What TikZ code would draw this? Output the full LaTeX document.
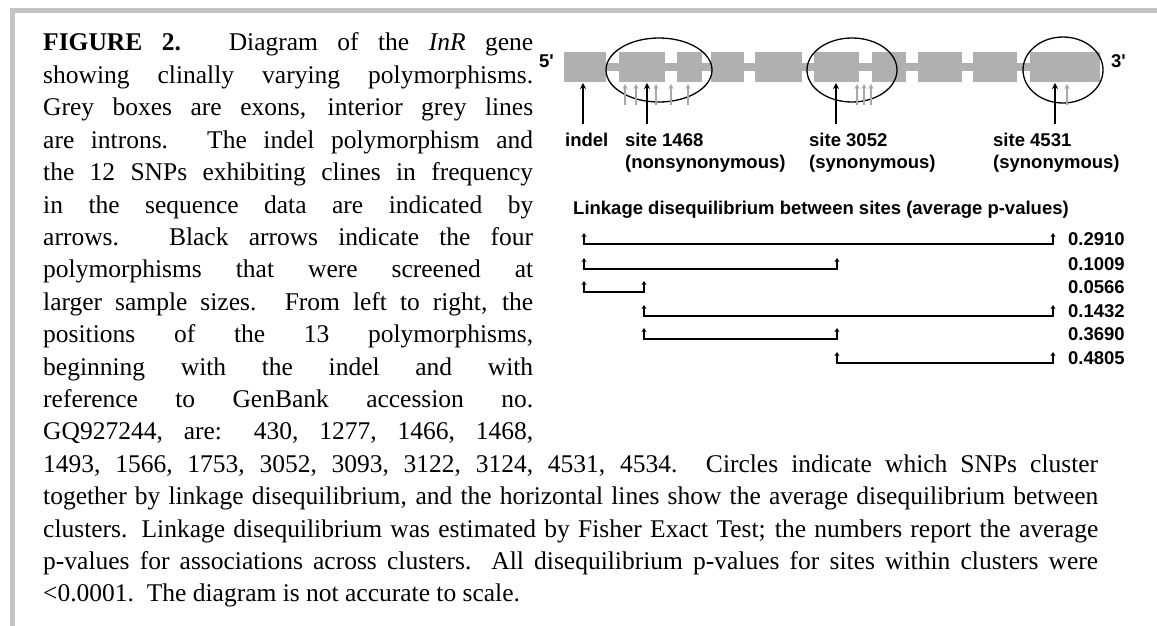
\documentclass[tikz,border=0pt]{standalone}
\usepackage{fontspec}
\setmainfont{Liberation Serif}
\newfontfamily\lsans{Liberation Sans}
\usetikzlibrary{arrows.meta,shapes.geometric}
\definecolor{framegrey}{HTML}{C4C4C4}
\definecolor{exongrey}{HTML}{B0B0B0}
\definecolor{snpgrey}{HTML}{A8A8A8}
\tikzset{
  exon/.style={fill=exongrey},
  clusterell/.style={ellipse, draw=black, line width=1.3pt, inner sep=0pt},
  bigarrow/.style={draw=black, line width=2pt, -{Stealth[length=6pt,width=6pt]}},
  snparrow/.style={draw=snpgrey, line width=1.4pt, -{Stealth[length=5pt,width=5pt]}},
  lab/.style={font=\lsans\bfseries\fontsize{18.5}{22}\selectfont, inner sep=0pt, align=left},
  ldline/.style={draw=black, line width=1.8pt, {Stealth[length=4pt,width=5pt]}-{Stealth[length=4pt,width=5pt]}},
  body/.style={font=\fontsize{25.5}{32.4}\selectfont, inner sep=0pt, anchor=base west}
}
\newcommand{\colw}[1]{\makebox[490pt][s]{#1}}
\newcommand{\fullw}[1]{\makebox[1055pt][s]{#1}}
\begin{document}
\begin{tikzpicture}[x=1pt,y=-1pt]
\useasboundingbox (0,0) rectangle (1157,626);
\fill[white] (0,0) rectangle (1157,626);
% frame
\fill[framegrey] (10,8) rectangle (1157,13);
\fill[framegrey] (10,8) rectangle (15,626);
% caption text
\node[body] (t1)  at (43,51)    {\colw{\textbf{FIGURE 2.} Diagram of the \textit{InR} gene}};
\node[body] (t2)  at (43,83.4)  {\colw{showing clinally varying polymorphisms.}};
\node[body] (t3)  at (43,115.8) {\colw{Grey boxes are exons, interior grey lines}};
\node[body] (t4)  at (43,148.2) {\colw{are introns. The indel polymorphism and}};
\node[body] (t5)  at (43,180.6) {\colw{the 12 SNPs exhibiting clines in frequency}};
\node[body] (t6)  at (43,213)   {\colw{in the sequence data are indicated by}};
\node[body] (t7)  at (43,245.4) {\colw{arrows. Black arrows indicate the four}};
\node[body] (t8)  at (43,277.8) {\colw{polymorphisms that were screened at}};
\node[body] (t9)  at (43,310.2) {\colw{larger sample sizes. From left to right, the}};
\node[body] (t10) at (43,342.6) {\colw{positions of the 13 polymorphisms,}};
\node[body] (t11) at (43,375)   {\colw{beginning with the indel and with}};
\node[body] (t12) at (43,407.4) {\colw{reference to GenBank accession no.}};
\node[body] (t13) at (43,439.8) {\colw{GQ927244, are: 430, 1277, 1466, 1468,}};
\node[body] (t14) at (43,472.2) {\fullw{1493, 1566, 1753, 3052, 3093, 3122, 3124, 4531, 4534. Circles indicate which SNPs cluster}};
\node[body] (t15) at (43,504.6) {\fullw{together by linkage disequilibrium, and the horizontal lines show the average disequilibrium between}};
\node[body] (t16) at (43,537)   {\fullw{clusters. Linkage disequilibrium was estimated by Fisher Exact Test; the numbers report the average}};
\node[body] (t17) at (43,569.4) {\fullw{p-values for associations across clusters. All disequilibrium p-values for sites within clusters were}};
\node[body] (t18) at (43,601.8) {<0.0001.\ \ The diagram is not accurate to scale.};
% gene: introns and exons
\fill[exon] (564,63) rectangle (1100,71);
\fill[exon] (564,52) rectangle (606,82);
\fill[exon] (619,52) rectangle (665,82);
\fill[exon] (677,52) rectangle (702,82);
\fill[exon] (711,52) rectangle (744,82);
\fill[exon] (755,52) rectangle (802,82);
\fill[exon] (814,52) rectangle (859,82);
\fill[exon] (872,52) rectangle (906,82);
\fill[exon] (918,52) rectangle (962,82);
\fill[exon] (973,52) rectangle (1017,82);
\fill[exon] (1030,52) rectangle (1100,82);
\node[lab, anchor=base east] (five) at (554,67) {5'};
\node[lab, anchor=base west] (three) at (1111,67) {3'};
% clusters
\node[clusterell, minimum width=106pt, minimum height=64pt] (c1) at (659,70) {};
\node[clusterell, minimum width=90pt, minimum height=64pt] (c2) at (852,70) {};
\node[clusterell, minimum width=80pt, minimum height=66pt] (c3) at (1063,70) {};
% grey SNP arrows
\foreach \x [count=\i] in {625,636,656,671,688,857,864,871,1067}{
  \coordinate (g\i b) at (\x,105);
  \coordinate (g\i t) at (\x,84);
  \draw[snparrow] (g\i b) -- (g\i t);
}
% black arrows
\foreach \n/\x in {indel/583,sa/647,sb/836,sc/1055}{
  \coordinate (\n b) at (\x,124);
  \coordinate (\n t) at (\x,83);
  \draw[bigarrow] (\n b) -- (\n t);
}
% labels
\node[lab, anchor=base west] (lindel) at (565,146) {indel};
\node[lab, anchor=north west] (l1468) at (625,132.5) {site 1468\\(nonsynonymous)};
\node[lab, anchor=north west] (l3052) at (809,132.5) {site 3052\\(synonymous)};
\node[lab, anchor=north west] (l4531) at (993,132.5) {site 4531\\(synonymous)};
\node[lab, anchor=base west] (ldtitle) at (573,214) {Linkage disequilibrium between sites (average p-values)};
% linkage lines
\foreach \r/\y/\xa/\xb/\v in {1/244/584/1053/0.2910,2/269/584/837/0.1009,3/292/584/644/0.0566,4/316/644/1053/0.1432,5/339/644/837/0.3690,6/363/837/1053/0.4805}{
  \coordinate (r\r as) at (\xa,\y-11);
  \coordinate (r\r a) at (\xa,\y);
  \coordinate (r\r b) at (\xb,\y);
  \coordinate (r\r bs) at (\xb,\y-11);
  \draw[ldline, rounded corners=0pt] (r\r as) -- (r\r a) -- (r\r b) -- (r\r bs);
  \node[lab, anchor=base west] (v\r) at (1068,\y+1) {\v};
}
\end{tikzpicture}
\end{document}
